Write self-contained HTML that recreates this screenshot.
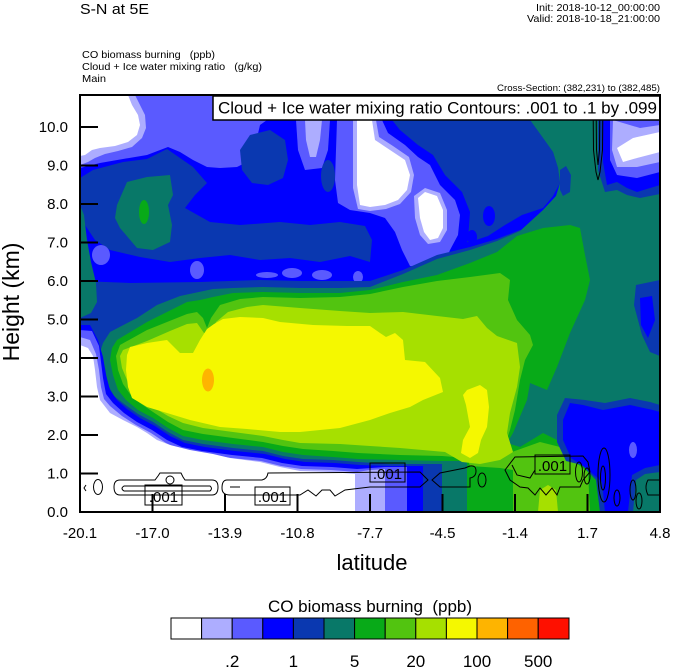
<!DOCTYPE html>
<html><head><meta charset="utf-8"><style>
html,body{margin:0;padding:0;background:#fff;}
svg{display:block;font-family:"Liberation Sans",Arial,sans-serif;}
</style></head><body>
<svg width="674" height="668" viewBox="0 0 674 668" xmlns="http://www.w3.org/2000/svg">
<defs><clipPath id="pc"><rect x="80" y="95" width="580" height="417"/></clipPath></defs>

<!-- header text -->
<text x="80" y="14" font-size="15" textLength="69" lengthAdjust="spacingAndGlyphs">S-N at 5E</text>
<text x="660" y="11" font-size="10.5" text-anchor="end" textLength="124" lengthAdjust="spacingAndGlyphs">Init: 2018-10-12_00:00:00</text>
<text x="660" y="22" font-size="10.5" text-anchor="end" textLength="133" lengthAdjust="spacingAndGlyphs">Valid: 2018-10-18_21:00:00</text>
<text x="82" y="58" font-size="10.5" xml:space="preserve" textLength="133" lengthAdjust="spacingAndGlyphs">CO biomass burning   (ppb)</text>
<text x="82" y="70" font-size="10.5" xml:space="preserve" textLength="180" lengthAdjust="spacingAndGlyphs">Cloud + Ice water mixing ratio   (g/kg)</text>
<text x="82" y="82" font-size="10.5" textLength="24" lengthAdjust="spacingAndGlyphs">Main</text>
<text x="660" y="91" font-size="9.5" text-anchor="end" textLength="163" lengthAdjust="spacingAndGlyphs">Cross-Section: (382,231) to (382,485)</text>

<g clip-path="url(#pc)">
<rect x="80" y="95" width="580" height="417" fill="#0000ff"/>
<!-- top-left -->
<polygon fill="#5a5aff" points="80,95 270,95 267,120 260,125 257,138 247,162 237,167 220,168 207,167 193,160 180,152 168,147 147,155 123,159 100,163 80,168"/>
<polygon fill="#adadff" points="80,95 135,95 140,105 145,115 146,128 142,138 132,147 118,151 105,154 95,158 88,162 80,165"/>
<polygon fill="#ffffff" points="80,95 128,95 132,105 138,115 140,125 137,135 128,142 115,146 100,148 92,150 85,155 80,156"/>
<polygon fill="#0a38b0" points="240,150 250,135 270,130 285,140 288,160 283,178 268,185 252,183 242,170"/>
<!-- top middle dark blue -->
<polygon fill="#0a38b0" points="375,95 525,95 530,120 543,138 553,152 558,168 560,183 553,196 543,208 522,215 505,225 488,236 470,242 455,243 450,230 452,210 447,190 430,180 415,165 400,150 385,135 375,120"/>
<ellipse cx="489" cy="216" rx="6" ry="10" fill="#0000ff"/>
<ellipse cx="472" cy="237" rx="5" ry="7" fill="#0000ff"/>
<!-- white blobs -->
<polygon fill="#0000ff" points="325,120 392,120 400,130 418,145 433,155 445,175 462,192 470,212 468,240 462,255 452,268 432,275 405,272 392,255 385,240 375,225 350,218 330,212 322,190 322,150"/>
<polygon fill="#5a5aff" points="337,120 382,120 388,133 405,145 418,157 430,165 440,185 455,200 460,215 458,235 450,250 445,262 430,268 410,266 402,250 395,232 385,218 370,213 350,210 338,203 335,180 336,150"/>
<polygon fill="#adadff" points="353,120 376,120 379,137 393,146 409,157 414,175 411,192 400,204 386,209 370,211 358,209 353,188"/>
<polygon fill="#ffffff" points="357,120 372,120 375,140 390,150 405,160 410,175 407,190 398,200 385,205 370,207 360,205 357,185"/>
<polygon fill="#adadff" points="414,196 425,188 440,193 447,210 447,230 440,242 428,244 420,235 415,218"/>
<polygon fill="#ffffff" points="418,198 425,192 437,196 443,210 443,228 438,238 430,240 424,232 420,218"/>
<polygon fill="#5a5aff" points="296,120 330,120 328,150 322,168 305,170 298,150"/>
<polygon fill="#adadff" points="305,120 322,120 320,140 316,157 310,157 306,140"/>
<ellipse cx="328" cy="176" rx="7" ry="16" fill="#0a38b0"/>
<!-- left middle dark band -->
<polygon fill="#0a38b0" points="80,178 93,170 123,162 147,159 167,149 180,158 193,167 207,183 195,195 185,208 210,222 240,225 280,222 310,225 340,222 365,226 372,240 370,262 350,256 320,262 290,258 260,260 230,255 200,258 170,262 140,257 110,250 95,240 85,225 80,215"/>
<polygon fill="#087868" points="117,205 127,182 147,177 170,175 173,195 168,205 172,225 170,242 153,250 137,248 120,228 115,218"/>
<ellipse cx="144" cy="212" rx="5" ry="12" fill="#08aa18"/>
<ellipse cx="101" cy="255" rx="9" ry="10" fill="#5a5aff"/>
<ellipse cx="197" cy="270" rx="7" ry="9" fill="#5a5aff"/>
<ellipse cx="267" cy="275" rx="11" ry="3" fill="#5a5aff"/>
<ellipse cx="292" cy="273" rx="10" ry="5" fill="#5a5aff"/>
<ellipse cx="322" cy="275" rx="10" ry="5" fill="#5a5aff"/>
<ellipse cx="358" cy="277" rx="5" ry="6" fill="#5a5aff"/>
<!-- lower dark band -->
<polygon fill="#0a38b0" points="80,281 130,283 200,282 260,280 300,281 370,281 403,270 437,255 470,247 497,239 520,230 540,228 560,232 560,512 80,512"/>
<!-- big teal -->
<polygon fill="#087868" points="525,95 660,95 660,512 100,512 99,380 98,358 103,343 110,332 137,318 157,305 180,296 213,289 233,288 263,287 300,288 340,288 370,287 403,274 437,259 470,250 497,241 520,231 543,210 556,196 560,183 558,168 553,152 543,138 530,120"/>
<polygon fill="#087868" points="80,205 84,215 87,240 91,262 96,283 97,302 91,313 80,318"/>
<!-- top right -->
<polygon fill="#0a38b0" points="598,95 660,95 660,194 640,198 627,195 617,190 605,192 598,170"/>
<polygon fill="#0000ff" points="603,95 660,95 660,185 637,192 627,188 617,182 607,185 603,162"/>
<polygon fill="#5a5aff" points="610,95 660,95 660,172 637,178 617,175 610,160"/>
<polygon fill="#adadff" points="613,120 640,128 660,125 660,162 637,167 617,167 612,150"/>
<polygon fill="#ffffff" points="617,148 633,138 660,132 660,152 637,158 623,162"/>
<polygon fill="#0a38b0" points="560,170 566,166 571,175 570,192 563,196 560,190"/>
<polygon fill="#0a38b0" points="636,285 660,280 660,356 650,352 642,335 634,305"/>
<polygon fill="#0000ff" points="640,298 652,296 655,320 648,338 641,325"/>
<!-- plume -->
<polygon fill="#08aa18" points="117,340 147,322 167,312 187,302 200,300 213,297 233,293 263,292 300,293 340,293 370,290 403,282 437,275 470,263 497,252 517,236 543,228 570,225 580,228 585,255 590,280 585,300 570,333 557,367 547,390 530,383 527,400 513,433 507,443 520,447 543,433 557,440 563,453 575,460 590,470 600,480 603,512 467,512 467,461 442,461 400,460 358,459 333,457 303,455 283,452 263,447 233,444 203,440 183,436 168,428 153,418 138,410 126,400 118,390 113,375 110,360 112,348"/>
<polygon fill="#52c410" points="120,345 147,330 167,322 187,314 197,312 203,318 207,328 211,318 220,305 240,299 263,297 300,298 340,297 370,294 403,287 437,281 470,277 500,273 510,280 508,300 517,320 530,335 533,345 525,360 520,380 515,410 510,430 505,445 512,452 540,442 560,447 575,462 588,472 590,512 513,512 513,470 500,468 470,466 467,458 442,456 400,455 358,453 333,451 303,449 283,446 263,442 233,438 203,434 183,430 168,422 153,412 140,403 130,394 123,384 118,370 116,356"/>
<polygon fill="#a6e000" points="123,350 147,341 170,331 187,324 197,323 204,333 210,334 216,322 228,312 247,307 263,305 300,308 340,311 370,313 403,312 437,316 463,319 477,316 487,328 497,336 517,343 520,367 517,387 510,413 507,433 513,452 500,460 480,464 462,462 445,452 400,448 370,446 340,444 300,443 283,440 263,436 233,432 203,428 183,423 168,416 153,407 142,399 133,390 127,380 122,368 120,356"/>
<polygon fill="#f5f800" points="127,355 130,347 147,343 167,340 173,346 180,353 193,353 200,340 207,329 214,324 223,319 240,317 263,318 280,322 313,325 347,326 370,326 380,333 386,337 395,333 403,340 405,360 425,362 440,378 443,392 423,400 410,407 390,413 370,420 340,428 300,432 280,432 247,429 220,427 190,420 167,413 147,407 132,398 128,387 126,370"/>
<polygon fill="#f5f800" points="467,390 480,385 487,390 489,407 487,427 481,440 478,453 470,458 461,453 463,440 470,427 466,405 463,395"/>
<ellipse cx="208" cy="380" rx="6" ry="11.5" fill="#feb400"/>
<polygon fill="#a6e000" points="540,490 548,485 556,490 558,512 538,512"/>
<!-- right blue -->
<polygon fill="#0a38b0" points="565,398 585,400 605,403 630,398 650,402 660,405 660,472 645,474 636,480 633,512 600,512 596,480 582,465 566,461 557,442 557,415"/>
<polygon fill="#0000ff" points="570,403 583,405 603,410 630,405 653,410 660,412 660,465 645,468 632,475 628,512 605,512 602,482 586,468 571,458 563,440 563,420"/>
<ellipse cx="633" cy="450" rx="4" ry="8" fill="#5a5aff"/>
<!-- lower-left white with rings -->
<polygon fill="#0a38b0" points="80,318 88,318 95,335 101,352 105,368 108,385 114,396 124,404 138,414 153,422 168,432 183,440 203,444 233,448 263,451 283,456 303,459 333,460 358,462 390,464 442,464 442,512 80,512"/>
<polygon fill="#0000ff" points="80,325 90,325 98,340 103,357 106,375 110,390 117,400 127,409 140,418 155,426 170,436 185,443 205,447 235,451 265,454 285,459 305,462 335,463 360,465 390,466 423,466 423,512 80,512"/>
<polygon fill="#5a5aff" points="80,330 92,331 99,346 101,362 103,378 106,394 113,403 124,413 137,422 152,430 167,440 182,447 202,451 232,455 262,458 282,463 302,466 332,467 357,469 385,467 407,467 407,512 80,512"/>
<polygon fill="#adadff" points="80,337 90,340 96,354 99,370 101,387 104,399 110,406 122,416 136,425 151,433 166,443 181,450 201,454 231,458 261,461 281,466 301,469 331,470 357,472 370,470 385,469 385,512 80,512"/>
<polygon fill="#ffffff" points="80,345 88,348 93,356 95,370 97,387 100,400 110,413 123,420 137,427 147,433 157,440 170,445 190,450 213,454 230,458 260,462 280,467 300,471 330,472 355,474 355,512 80,512"/>

<!-- contours -->
<g fill="none" stroke="#000" stroke-width="1">
<path d="M593,95 L593.5,150 L596,172 L598,180 L600,172 L602.5,150 L603,95"/>
<path d="M596,95 L596.5,150 L598,165 L599.5,150 L600,95"/>
<ellipse cx="98" cy="487" rx="4.5" ry="7.5"/>
<path d="M86,485 L84,488 L86,491"/>
<path d="M120,480 L155,480 L158,476 L160,473 L181,473 L183,477 L185,480 L212,480 Q218,480 218,487 Q218,495 212,495 L120,495 Q114,495 114,487 Q114,480 120,480 Z"/>
<path d="M124,486 L210,486 Q213,488.5 210,491 L124,491 Q120,488.5 124,486 Z"/>
<circle cx="170" cy="480" r="4"/>
<path d="M227,480 L262,480 Q267,479 268,473 L420,472 L428,480 L420,487 L370,487 L345,490 L335,496 L330,490 L322,490 L316,496 L308,490 L300,495 L230,495 Q222,495 222,488 Q222,480 227,480 Z"/>
<path d="M230,487 L240,487"/>
<path d="M432,480 L440,473 L465,468 L470,466 Q476,465 476,471 Q476,477 470,478 L470,487 L440,487 Z"/>
<ellipse cx="482" cy="480" rx="4" ry="7"/>
<path d="M515,457 L583,456 L588,462 L590,472 L583,480 L580,487 L560,487 L557,495 L552,488 L546,495 L540,488 L535,495 L528,488 L520,487 L510,480 L505,470 Z"/>
<path d="M512,465 L517,475 L530,478 L535,470"/>
<ellipse cx="579" cy="472" rx="3.5" ry="10"/>
<ellipse cx="587" cy="476" rx="3" ry="8"/>
<ellipse cx="604" cy="475" rx="6" ry="27"/>
<ellipse cx="603" cy="478" rx="2.5" ry="12"/>
<ellipse cx="617" cy="498" rx="3" ry="8"/>
<ellipse cx="633" cy="490" rx="3" ry="10"/>
<ellipse cx="639" cy="501" rx="3" ry="8"/>
<path d="M660,480 L648,480 Q644,487 648,495 L660,495"/>
<rect x="145" y="485" width="37" height="20"/>
<rect x="255" y="487" width="35" height="18"/>
<rect x="370" y="463" width="35" height="19"/>
<rect x="535" y="455" width="35" height="19"/>
</g>
<g font-size="15" text-anchor="middle" fill="#000">
<text x="163.5" y="502">.001</text>
<text x="272.5" y="502">.001</text>
<text x="387.5" y="479">.001</text>
<text x="552.5" y="471">.001</text>
</g>
</g>

<!-- title box -->
<rect x="213" y="96" width="447" height="24" fill="#fff" stroke="#000" stroke-width="1.5"/>
<text x="218" y="113.5" font-size="17">Cloud + Ice water mixing ratio Contours: .001 to .1 by .099</text>

<!-- frame & ticks -->
<rect x="80" y="95" width="580" height="417" fill="none" stroke="#000" stroke-width="2"/>
<g stroke="#000" stroke-width="2">
<path d="M80,512H98M80,473.5H98M80,435H98M80,396.5H98M80,358H98M80,319.5H98M80,281H98M80,242.5H98M80,204H98M80,165.5H98M80,127H98"/>
<path d="M152.5,512V494M225,512V494M297.5,512V494M370,512V494M442.5,512V494M515,512V494M587.5,512V494"/>
</g>
<g font-size="15" text-anchor="end" fill="#000">
<text x="68" y="517">0.0</text>
<text x="68" y="478.5">1.0</text>
<text x="68" y="440">2.0</text>
<text x="68" y="401.5">3.0</text>
<text x="68" y="363">4.0</text>
<text x="68" y="324.5">5.0</text>
<text x="68" y="286">6.0</text>
<text x="68" y="247.5">7.0</text>
<text x="68" y="209">8.0</text>
<text x="68" y="170.5">9.0</text>
<text x="68" y="132">10.0</text>
</g>
<g font-size="15" text-anchor="middle" fill="#000">
<text x="80" y="538">-20.1</text>
<text x="152.5" y="538">-17.0</text>
<text x="225" y="538">-13.9</text>
<text x="297.5" y="538">-10.8</text>
<text x="370" y="538">-7.7</text>
<text x="442.5" y="538">-4.5</text>
<text x="515" y="538">-1.4</text>
<text x="587.5" y="538">1.7</text>
<text x="660" y="538">4.8</text>
</g>
<text x="372" y="570" font-size="22" text-anchor="middle">latitude</text>
<text transform="translate(19,302) rotate(-90)" font-size="23" text-anchor="middle">Height (km)</text>

<!-- colorbar -->
<text x="370" y="612" font-size="17" text-anchor="middle" xml:space="preserve">CO biomass burning  (ppb)</text>
<g stroke="#000" stroke-width="1">
<rect x="171" y="618" width="30.6" height="21" fill="#ffffff"/>
<rect x="201.6" y="618" width="30.6" height="21" fill="#adadff"/>
<rect x="232.2" y="618" width="30.6" height="21" fill="#5a5aff"/>
<rect x="262.8" y="618" width="30.6" height="21" fill="#0000ff"/>
<rect x="293.4" y="618" width="30.6" height="21" fill="#0a38b0"/>
<rect x="324" y="618" width="30.6" height="21" fill="#087868"/>
<rect x="354.6" y="618" width="30.6" height="21" fill="#08aa18"/>
<rect x="385.2" y="618" width="30.6" height="21" fill="#52c410"/>
<rect x="415.8" y="618" width="30.6" height="21" fill="#a6e000"/>
<rect x="446.4" y="618" width="30.6" height="21" fill="#f5f800"/>
<rect x="477" y="618" width="30.6" height="21" fill="#feb400"/>
<rect x="507.6" y="618" width="30.6" height="21" fill="#fe6200"/>
<rect x="538.2" y="618" width="30.8" height="21" fill="#fe1000"/>
</g>
<g font-size="17" text-anchor="middle" fill="#000">
<text x="232.2" y="667">.2</text>
<text x="293.4" y="667">1</text>
<text x="354.6" y="667">5</text>
<text x="415.8" y="667">20</text>
<text x="477" y="667">100</text>
<text x="538.2" y="667">500</text>
</g>
</svg>
</body></html>
